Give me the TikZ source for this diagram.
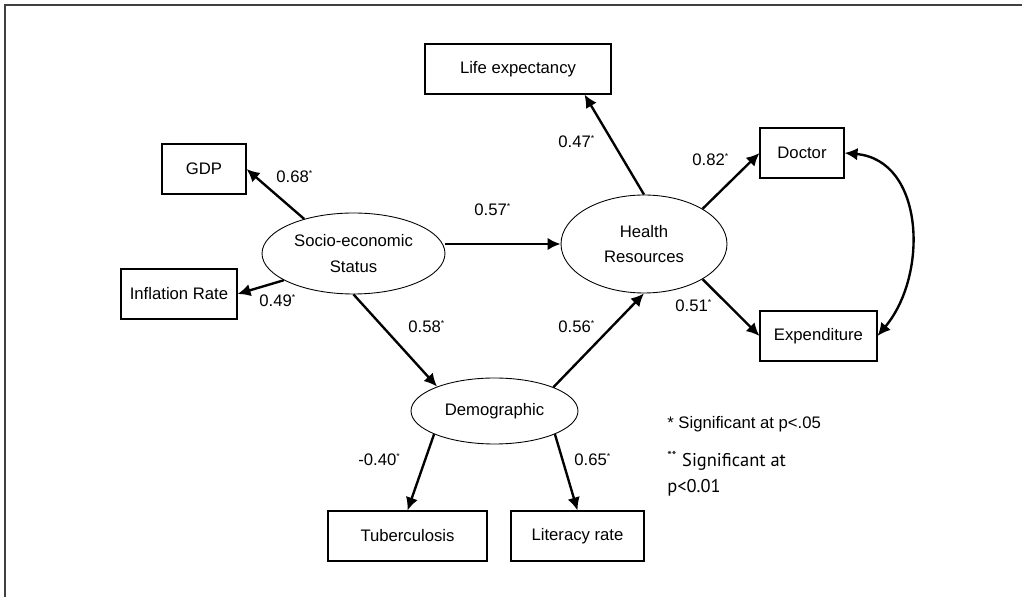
\documentclass[tikz,border=0pt]{standalone}
\usepackage{fontspec}
\setmainfont{Liberation Sans}
\newfontfamily\notefont{PT Sans}
\usetikzlibrary{arrows.meta,positioning,shapes.geometric}

\newcommand{\sigmark}{\textsuperscript{\fontsize{5}{5}\selectfont *}}

\begin{document}
\begin{tikzpicture}[
  x=0.02cm, y=-0.02cm,
  font=\fontsize{9.5}{11}\selectfont,
  obs/.style={draw, line width=0.6pt, inner sep=0pt, minimum height=1cm},
  latent/.style={ellipse, draw, line width=0.5pt, inner sep=0pt, align=center, font=\fontsize{9.5}{14.5}\selectfont},
  tip/.style={Latex[length=2.6mm,width=2.5mm]},
  arr/.style={-{Latex[length=2.6mm,width=2.5mm]}, line width=1.35pt},
  coef/.style={inner sep=0pt, anchor=base west},
  frame/.style={line width=0.9pt, black!75}
]
  \useasboundingbox (0,0) rectangle (1022,597);
  \draw[frame] (5,650) |- (1100,5);

  % latent variables
  \node[latent, minimum width=3.66cm, minimum height=1.62cm] (ses) at (353.5,253.5) {Socio-economic\\Status};
  \node[latent, minimum width=3.32cm, minimum height=1.96cm] (hr) at (644,244) {Health\\Resources};
  \node[latent, minimum width=3.34cm, minimum height=1.32cm] (dem) at (494.5,411) {Demographic};

  % indicators
  \node[obs, minimum width=1.68cm] (gdp) at (204,169) {GDP};
  \node[obs, minimum width=2.32cm] (infl) at (179,294) {Inflation Rate};
  \node[obs, minimum width=3.72cm] (life) at (518,69) {Life expectancy};
  \node[obs, minimum width=1.68cm] (doc) at (802,153) {Doctor};
  \node[obs, minimum width=2.34cm] (expd) at (818.5,336) {Expenditure};
  \node[obs, minimum width=3.18cm] (tb) at (407.5,536) {Tuberculosis};
  \node[obs, minimum width=2.66cm] (lit) at (577.5,536) {Literacy rate};

  % paths
  \draw[arr] (ses.145) -- (gdp.east);
  \draw[arr] (ses.201) -- (infl.east);
  \draw[arr] (hr.west -| ses.east) -- (hr.west);
  \draw[arr] (ses.south) -- (dem.157);
  \draw[arr] (dem.22) -- (hr.south);
  \draw[arr] (hr.north) -- (life.-21);
  \draw[arr] (hr.31) -- (doc.west);
  \draw[arr] (hr.-31) -- (expd.west);
  \draw[arr] (dem.201) -- (tb.north);
  \draw[arr] (dem.-21) -- (lit.north);
  \draw[{Latex[length=2.6mm,width=2.5mm]}-{Latex[length=2.6mm,width=2.5mm]}, line width=1.35pt]
    (doc.east) to[out=-5, in=50, looseness=1.1] (expd.east);

  % coefficients
  \node[coef] (c1) at (276,183) {0.68\sigmark};
  \node[coef] (c2) at (259,307) {0.49\sigmark};
  \node[coef] (c3) at (474,216) {0.57\sigmark};
  \node[coef] (c4) at (408,333) {0.58\sigmark};
  \node[coef] (c5) at (558,333) {0.56\sigmark};
  \node[coef] (c6) at (558,148) {0.47\sigmark};
  \node[coef] (c7) at (692,166) {0.82\sigmark};
  \node[coef] (c8) at (675,312) {0.51\sigmark};
  \node[coef] (c9) at (358,466) {-0.40\sigmark};
  \node[coef] (c10) at (574,466) {0.65\sigmark};

  % note
  \node[coef] (note1) at (667,429) {* Significant at p<.05};
  \node[coef, font=\notefont\fontsize{10.5}{12}\selectfont] (note2) at (667,467) {\textsuperscript{**} Significant at};
  \node[coef, font=\notefont\fontsize{10.5}{12}\selectfont] (note3) at (667,493) {p<0.01};
\end{tikzpicture}
\end{document}
